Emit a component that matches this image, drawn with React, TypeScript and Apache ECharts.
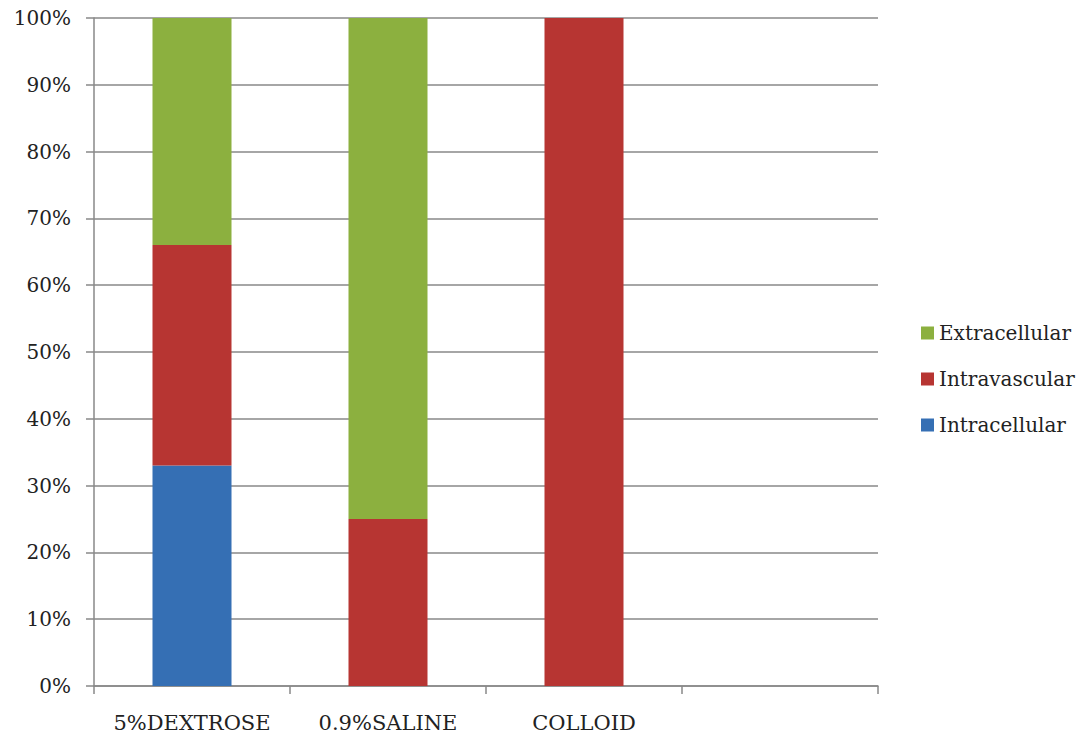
import React, { useEffect, useRef } from "react";
import * as echarts from "echarts";

const categories = ["5%DEXTROSE", "0.9%SALINE", "COLLOID", ""];
const intracellular = [33, 0, 0, null];
const intravascular = [33, 25, 100, null];
const extracellular = [34, 75, 0, null];
const legendOrder = ["Extracellular", "Intravascular", "Intracellular"];

const FONT = "'DejaVu Serif', 'Liberation Serif', serif";

export default function App() {
  const ref = useRef<HTMLDivElement>(null);
  useEffect(() => {
    if (!ref.current) return;
    const chart = echarts.init(ref.current, null, { renderer: "svg" });
    const mk = (name: string, data: any[], color: string) => ({
      name,
      type: "bar",
      stack: "total",
      data,
      barWidth: 79,
      itemStyle: { color },
      emphasis: { disabled: true },
    });
    chart.setOption({
      animation: false,
      grid: { left: 94, right: 208, top: 18, bottom: 52, containLabel: false },
      legend: {
        data: legendOrder,
        orient: "vertical",
        left: 916,
        top: 318,
        itemWidth: 13,
        itemHeight: 13,
        itemGap: 26,
        icon: "rect",
        textStyle: { fontFamily: FONT, fontSize: 20, color: "#222" },
      },
      xAxis: {
        type: "category",
        data: categories,
        axisLine: { lineStyle: { color: "#888", width: 1.5 } },
        axisTick: { show: true, interval: 0, length: 8, lineStyle: { color: "#888", width: 1.5 } },
        axisLabel: { interval: 0, hideOverlap: false, fontFamily: FONT, fontSize: 21, color: "#222", margin: 26 },
      },
      yAxis: {
        type: "value",
        min: 0,
        max: 100,
        interval: 10,
        axisLine: { show: true, lineStyle: { color: "#888", width: 1.5 } },
        axisTick: { show: true, length: 8, lineStyle: { color: "#888", width: 1.5 } },
        axisLabel: {
          fontFamily: FONT,
          fontSize: 20,
          color: "#222",
          margin: 23,
          formatter: "{value}%",
        },
        splitLine: { lineStyle: { color: "#888", width: 1.5 } },
      },
      series: [
        mk("Intracellular", intracellular, "#356FB4"),
        mk("Intravascular", intravascular, "#B73532"),
        mk("Extracellular", extracellular, "#8CB03F"),
      ],
    });
    return () => chart.dispose();
  }, []);
  return <div ref={ref} style={{ width: 1086, height: 738, position: "absolute", left: 0, top: 0 }} />;
}
